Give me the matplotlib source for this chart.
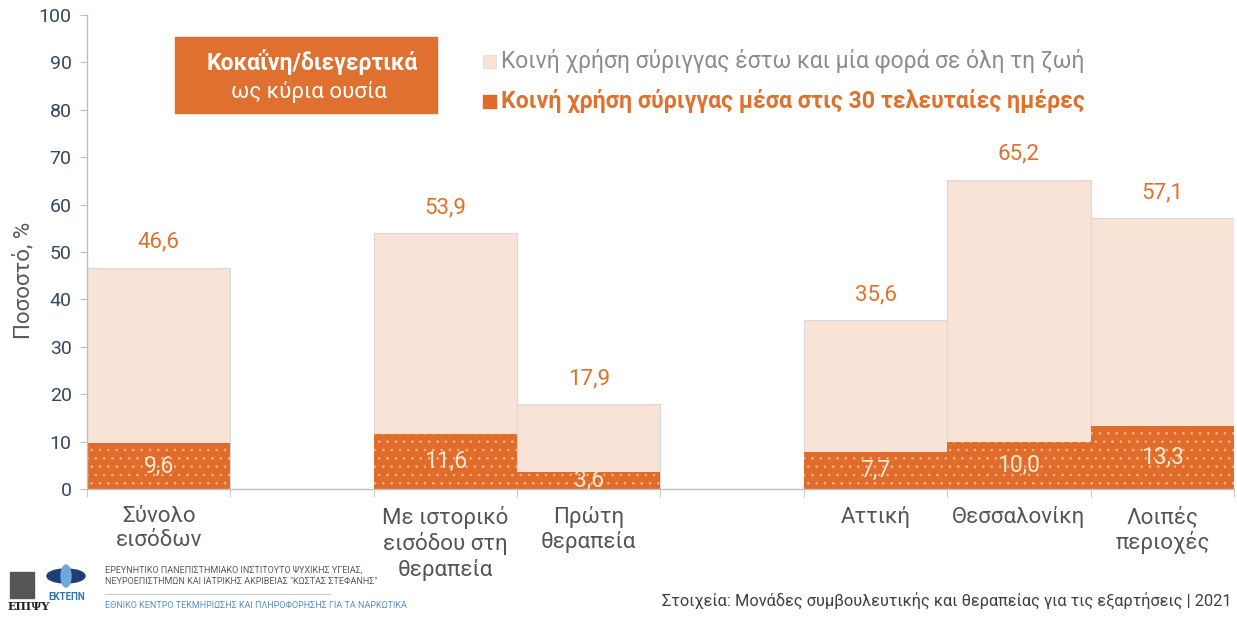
import numpy as np
import matplotlib
matplotlib.use('Agg')
import matplotlib.pyplot as plt
from matplotlib.patches import Rectangle, Ellipse

plt.rcParams['font.family'] = ['Roboto', 'DejaVu Sans']
plt.rcParams['hatch.linewidth'] = 0.6

# data
categories = ['Σύνολο\nεισόδων', 'Με ιστορικό\nεισόδου στη\nθεραπεία', 'Πρώτη\nθεραπεία',
              'Αττική', 'Θεσσαλονίκη', 'Λοιπές\nπεριοχές']
slots = [0, 2, 3, 5, 6, 7]
lifetime = [46.6, 53.9, 17.9, 35.6, 65.2, 57.1]
last30 = [9.6, 11.6, 3.6, 7.7, 10.0, 13.3]
legend_labels = ['Κοινή χρήση σύριγγας έστω και μία φορά σε όλη τη ζωή',
                 'Κοινή χρήση σύριγγας μέσα στις 30 τελευταίες ημέρες']

light = '#F9E3D6'
dark = '#E06B2A'
orange_txt = '#E0712D'
grey = '#BFBFBF'

fig = plt.figure(figsize=(12.37, 6.17), dpi=100)
ax = fig.add_axes([0.0703, 0.2075, 0.9273, 0.7682])

# light bars (lifetime)
ax.bar(slots, lifetime, width=1.0, color=light, edgecolor='#D9D9D9', linewidth=0.8)
# dark bars with dots
ax.bar(slots, last30, width=1.0, color=dark, edgecolor='#F3B98C', linewidth=0, hatch='..')

for x, v in zip(slots, lifetime):
    ax.text(x, v + 3.2, f'{v:.1f}'.replace('.', ','), ha='center', va='bottom',
            fontsize=16, color=orange_txt)
for x, v in zip(slots, last30):
    ax.text(x, v / 2, f'{v:.1f}'.replace('.', ','), ha='center', va='center',
            fontsize=16.5, color='#FBE8CF', clip_on=True)

ax.set_xlim(-0.5, 7.5)
ax.set_ylim(0, 100)
ax.set_yticks(np.arange(0, 101, 10))
ax.tick_params(axis='y', labelsize=14, labelcolor='#34495E', color=grey, length=5, pad=6)
ax.set_xticks(slots)
ax.set_xticklabels(categories, fontsize=16, color='#555555', linespacing=1.2)
ax.tick_params(axis='x', length=0, pad=12)
ax.set_xticks(np.arange(-0.5, 8.0, 1.0), minor=True)
ax.tick_params(axis='x', which='minor', length=6, color=grey)
ax.set_ylabel('Ποσοστό, %', fontsize=16, color='#595959')
ax.yaxis.set_label_coords(-0.046, 0.44)

for s in ['top', 'right']:
    ax.spines[s].set_visible(False)
for s in ['left', 'bottom']:
    ax.spines[s].set_color(grey)
    ax.spines[s].set_linewidth(1.0)

# orange title box
fig.patches.append(Rectangle((175 / 1237, 1 - 113 / 617), 262 / 1237, 76 / 617,
                             transform=fig.transFigure, color='#E0702F', zorder=5))
fig.text(312 / 1237, 1 - 62 / 617, 'Κοκαΐνη/διεγερτικά', ha='center', va='center',
         fontsize=16.5, fontweight='bold', color='white', zorder=6)
fig.text(309 / 1237, 1 - 92 / 617, 'ως κύρια ουσία', ha='center', va='center',
         fontsize=16, color='white', zorder=6)

# legend
fig.patches.append(Rectangle((483 / 1237, 1 - 68 / 617), 13 / 1237, 13 / 617,
                             transform=fig.transFigure, color=light, ec='#E8D5C8', lw=0.5))
fig.text(501 / 1237, 1 - 61 / 617, legend_labels[0], ha='left', va='center',
         fontsize=16.5, color='#8C8C8C')
fig.patches.append(Rectangle((483 / 1237, 1 - 108 / 617), 13 / 1237, 13 / 617,
                             transform=fig.transFigure, color=dark))
fig.text(501 / 1237, 1 - 101 / 617, legend_labels[1], ha='left', va='center',
         fontsize=16.7, fontweight='bold', color=orange_txt)

# footer
fig.text(1232 / 1237, 1 - 601 / 617,
         'Στοιχεία: Μονάδες συμβουλευτικής και θεραπείας για τις εξαρτήσεις | 2021',
         ha='right', va='center', fontsize=11.8, color='#404040')
fig.text(8 / 1237, 1 - 607 / 617, 'ΕΠΙΨΥ', ha='left', va='center', fontsize=8,
         color='#222222', family='DejaVu Serif', fontweight='bold')
fig.patches.append(Rectangle((10 / 1237, 1 - 598 / 617), 24 / 1237, 26 / 617,
                             transform=fig.transFigure, color='#555555'))
fig.patches.append(Ellipse((66 / 1237, 1 - 576 / 617), 38 / 1237, 14 / 617,
                           transform=fig.transFigure, color='#1F3E75'))
fig.patches.append(Ellipse((66 / 1237, 1 - 576 / 617), 10 / 1237, 22 / 617,
                           transform=fig.transFigure, color='#6FA8DC'))
fig.text(67 / 1237, 1 - 597 / 617, 'ΕΚΤΕΠΝ', ha='center', va='center', fontsize=7,
         color='#2E75B6', fontweight='bold')
fig.text(105 / 1237, 1 - 576 / 617,
         'ΕΡΕΥΝΗΤΙΚΟ ΠΑΝΕΠΙΣΤΗΜΙΑΚΟ ΙΝΣΤΙΤΟΥΤΟ ΨΥΧΙΚΗΣ ΥΓΕΙΑΣ,\n'
         'ΝΕΥΡΟΕΠΙΣΤΗΜΩΝ ΚΑΙ ΙΑΤΡΙΚΗΣ ΑΚΡΙΒΕΙΑΣ "ΚΩΣΤΑΣ ΣΤΕΦΑΝΗΣ"',
         ha='left', va='center', fontsize=6.5, color='#595959', linespacing=1.3)
fig.add_artist(plt.Line2D([105 / 1237, 330 / 1237], [1 - 594 / 617, 1 - 594 / 617],
                          transform=fig.transFigure, color='#BFBFBF', lw=0.6))
fig.text(105 / 1237, 1 - 605 / 617, 'ΕΘΝΙΚΟ ΚΕΝΤΡΟ ΤΕΚΜΗΡΙΩΣΗΣ ΚΑΙ ΠΛΗΡΟΦΟΡΗΣΗΣ ΓΙΑ ΤΑ ΝΑΡΚΩΤΙΚΑ',
         ha='left', va='center', fontsize=6.5, color='#5B8FC7')

fig.savefig('out.png', dpi=100)
